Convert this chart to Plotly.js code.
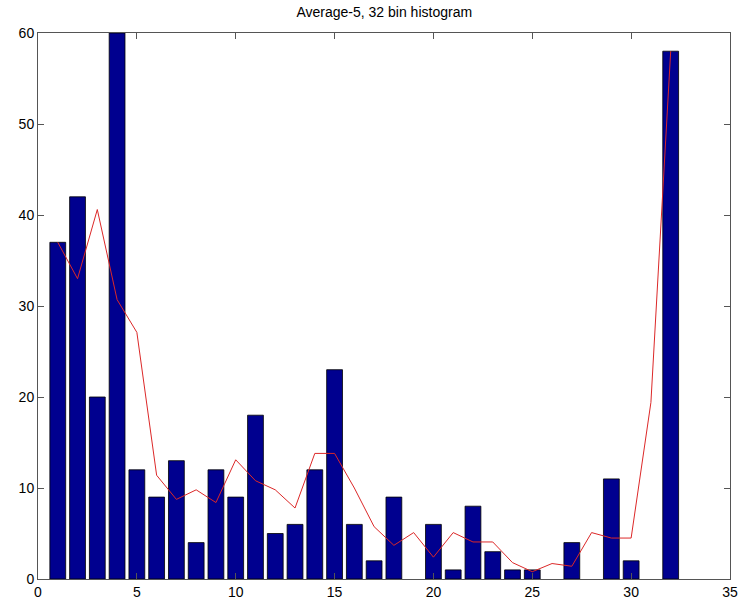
<!DOCTYPE html>
<html>
<head>
<meta charset="utf-8">
<script src="https://cdn.plot.ly/plotly-3.0.1.min.js"></script>
<style>html,body{margin:0;padding:0;background:#fff;}#chart{width:739px;height:601px;}</style>
</head>
<body>
<div id="chart"></div>
<script>
const bins = [1,2,3,4,5,6,7,8,9,10,11,12,13,14,15,16,17,18,19,20,21,22,23,24,25,26,27,28,29,30,31,32];
const counts = [37,42,20,60,12,9,13,4,12,9,18,5,6,12,23,6,2,9,0,6,1,8,3,1,1,0,4,0,11,2,0,58];
const average5 = [37,33,40.6,30.7,27.1,11.4,8.75,9.8,8.4,13.1,10.8,9.8,7.8,13.8,13.8,10,5.75,3.7,5.1,2.4,5.1,4.07,4.07,1.8,0.8,1.7,1.4,5.1,4.5,4.5,19.4,58];
const xTicks = [0,5,10,15,20,25,30,35];
const yTicks = [0,10,20,30,40,50,60];
const titleText = "Average-5, 32 bin histogram";

const traces = [
  {type:'bar', x:bins, y:counts, width:0.8,
   marker:{color:'rgb(0,0,143)', line:{color:'#000', width:counts.map(c => c > 0 ? 0.8 : 0)}},
   hoverinfo:'skip', showlegend:false},
  {type:'scatter', mode:'lines', x:bins, y:average5,
   line:{color:'rgb(220,40,40)', width:1}, showlegend:false, hoverinfo:'skip'}
];
const axisCommon = {showline:true, linecolor:'#555', linewidth:1, mirror:'ticks',
  ticks:'inside', ticklen:6, tickcolor:'#555', tickwidth:1, showgrid:false, zeroline:false,
  tickfont:{family:'Liberation Sans, Arial, sans-serif', size:14, color:'#000'}};
const layout = {
  width:739, height:601,
  margin:{l:38, r:9, t:33, b:22, pad:0},
  paper_bgcolor:'#fff', plot_bgcolor:'#fff',
  title:{text:titleText, x:0.52, xanchor:'center', y:0.988, yanchor:'top',
         font:{family:'Liberation Sans, Arial, sans-serif', size:14, color:'#000'}},
  xaxis:Object.assign({}, axisCommon, {range:[0,35], tickvals:xTicks, ticktext:xTicks.map(String)}),
  yaxis:Object.assign({}, axisCommon, {range:[0,60], tickvals:yTicks, ticktext:yTicks.map(String)}),
  bargap:0
};
Plotly.newPlot('chart', traces, layout, {staticPlot:true, displayModeBar:false});
</script>
</body>
</html>
